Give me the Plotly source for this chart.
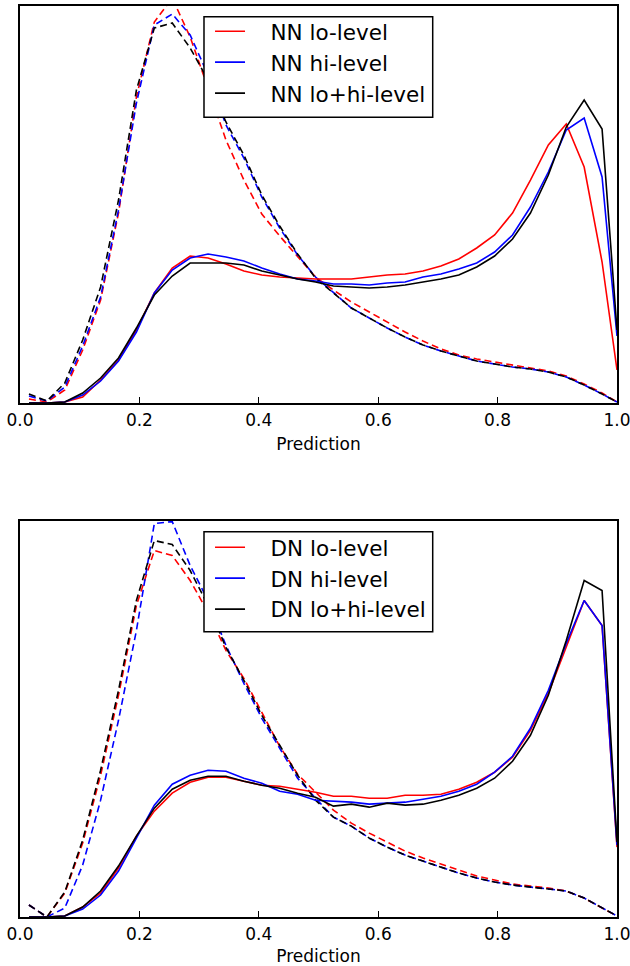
import plotly.graph_objects as go
from plotly.subplots import make_subplots

x = [0.015, 0.045, 0.075, 0.105, 0.135, 0.165, 0.195, 0.225, 0.255, 0.285,
     0.315, 0.345, 0.375, 0.405, 0.435, 0.465, 0.495, 0.525, 0.555, 0.585,
     0.615, 0.645, 0.675, 0.705, 0.735, 0.765, 0.795, 0.825, 0.855, 0.885,
     0.915, 0.945, 0.975, 1.0]

# ---------- top panel (NN) ----------
nn_lo_sig = [0, 0, 0.01, 0.06, 0.23, 0.43, 0.73, 1.10, 1.35, 1.47,
             1.45, 1.39, 1.32, 1.28, 1.26, 1.25, 1.24, 1.24, 1.24, 1.26,
             1.28, 1.29, 1.32, 1.37, 1.44, 1.55, 1.68, 1.90, 2.23, 2.58,
             2.79, 2.36, 1.41, 0.33]
nn_hi_sig = [0, 0, 0.01, 0.08, 0.22, 0.42, 0.71, 1.10, 1.33, 1.45,
             1.49, 1.46, 1.42, 1.35, 1.29, 1.24, 1.22, 1.19, 1.19, 1.18,
             1.20, 1.21, 1.26, 1.29, 1.34, 1.40, 1.51, 1.68, 1.96, 2.31,
             2.73, 2.85, 2.26, 0.67]
nn_all_sig = [0, 0, 0.01, 0.10, 0.25, 0.45, 0.75, 1.08, 1.27, 1.40,
              1.40, 1.40, 1.38, 1.32, 1.28, 1.24, 1.21, 1.17, 1.16, 1.15,
              1.16, 1.18, 1.21, 1.24, 1.28, 1.36, 1.47, 1.64, 1.90, 2.28,
              2.76, 3.03, 2.74, 0.73]
nn_lo_bkg = [0.04, 0.01, 0.13, 0.53, 1.03, 1.90, 3.06, 3.81, 4.05, 3.66,
             3.15, 2.63, 2.23, 1.89, 1.67, 1.46, 1.26, 1.13, 1.01, 0.91,
             0.81, 0.71, 0.62, 0.54, 0.48, 0.44, 0.41, 0.38, 0.35, 0.32,
             0.27, 0.19, 0.10, 0.01]
nn_hi_bkg = [0.07, 0.02, 0.16, 0.57, 1.06, 1.93, 3.00, 3.78, 3.89, 3.68,
             3.28, 2.78, 2.45, 2.06, 1.75, 1.48, 1.26, 1.10, 0.95, 0.85,
             0.75, 0.66, 0.58, 0.52, 0.47, 0.42, 0.39, 0.36, 0.34, 0.31,
             0.26, 0.18, 0.09, 0.01]
nn_all_bkg = [0.09, 0.02, 0.20, 0.63, 1.16, 2.03, 3.13, 3.75, 3.80, 3.55,
              3.23, 2.81, 2.48, 2.08, 1.77, 1.49, 1.25, 1.10, 0.95, 0.85,
              0.75, 0.66, 0.58, 0.52, 0.47, 0.42, 0.39, 0.36, 0.34, 0.31,
              0.26, 0.18, 0.09, 0.01]

# ---------- bottom panel (DN) ----------
dn_lo_sig = [0, 0, 0.01, 0.10, 0.24, 0.49, 0.81, 1.06, 1.24, 1.35,
             1.40, 1.40, 1.36, 1.32, 1.31, 1.28, 1.25, 1.21, 1.21, 1.19,
             1.19, 1.22, 1.22, 1.23, 1.28, 1.35, 1.45, 1.60, 1.87, 2.24,
             2.71, 3.17, 2.92, 0.70]
dn_hi_sig = [0, 0, 0.01, 0.08, 0.22, 0.46, 0.79, 1.12, 1.33, 1.42,
             1.47, 1.46, 1.39, 1.34, 1.26, 1.23, 1.17, 1.16, 1.15, 1.13,
             1.14, 1.15, 1.18, 1.21, 1.26, 1.33, 1.45, 1.61, 1.89, 2.27,
             2.74, 3.17, 2.92, 0.72]
dn_all_sig = [0, 0, 0.01, 0.10, 0.26, 0.51, 0.81, 1.09, 1.28, 1.37,
              1.41, 1.41, 1.36, 1.32, 1.29, 1.24, 1.20, 1.11, 1.13, 1.10,
              1.14, 1.12, 1.13, 1.17, 1.22, 1.29, 1.39, 1.56, 1.82, 2.22,
              2.77, 3.37, 3.27, 0.75]
dn_lo_bkg = [0.12, 0.00, 0.24, 0.74, 1.42, 2.22, 3.12, 3.67, 3.62, 3.37,
             3.05, 2.67, 2.39, 2.05, 1.71, 1.43, 1.25, 1.07, 0.94, 0.84,
             0.75, 0.66, 0.59, 0.53, 0.47, 0.41, 0.37, 0.33, 0.31, 0.29,
             0.26, 0.19, 0.09, 0.01]
dn_hi_bkg = [0.12, 0.00, 0.09, 0.52, 1.17, 1.97, 2.87, 3.94, 3.96, 3.52,
             3.17, 2.72, 2.34, 1.99, 1.69, 1.39, 1.19, 1.00, 0.91, 0.79,
             0.70, 0.62, 0.56, 0.50, 0.44, 0.39, 0.35, 0.32, 0.30, 0.28,
             0.26, 0.19, 0.09, 0.01]
dn_all_bkg = [0.12, 0.00, 0.25, 0.77, 1.47, 2.27, 3.17, 3.77, 3.73, 3.47,
              3.12, 2.70, 2.37, 2.02, 1.72, 1.42, 1.17, 1.00, 0.91, 0.79,
              0.70, 0.62, 0.56, 0.50, 0.44, 0.39, 0.35, 0.32, 0.30, 0.28,
              0.26, 0.19, 0.09, 0.01]

tick_vals = [0.0, 0.2, 0.4, 0.6, 0.8, 1.0]
tick_text = ["0.0", "0.2", "0.4", "0.6", "0.8", "1.0"]

FONT = "DejaVu Sans"
LW = 1.6
DASH = "7px,4px"
PAD = "\u00a0\u00a0\u00a0"

fig = make_subplots(rows=2, cols=1, vertical_spacing=0.13)

panels = [
    (1, "legend", "NN", [nn_lo_sig, nn_hi_sig, nn_all_sig], [nn_lo_bkg, nn_hi_bkg, nn_all_bkg]),
    (2, "legend2", "DN", [dn_lo_sig, dn_hi_sig, dn_all_sig], [dn_lo_bkg, dn_hi_bkg, dn_all_bkg]),
]
colors = ["red", "blue", "black"]
labels = ["lo-level", "hi-level", "lo+hi-level"]

for row, leg, prefix, sigs, bkgs in panels:
    for ys, c in zip(bkgs, colors):
        fig.add_trace(go.Scatter(x=x, y=ys, mode="lines", showlegend=False,
                                 line=dict(color=c, width=LW, dash=DASH)),
                      row=row, col=1)
    for ys, c, lab in zip(sigs, colors, labels):
        fig.add_trace(go.Scatter(x=x, y=ys, mode="lines", name=f"{PAD}{prefix} {lab}",
                                 legend=leg, line=dict(color=c, width=LW)),
                      row=row, col=1)

axis_common = dict(showline=True, linecolor="black", linewidth=1.5, mirror=True,
                   showgrid=False, zeroline=False, automargin=False)

for r in (1, 2):
    fig.update_xaxes(range=[0, 1], tickvals=tick_vals, ticktext=tick_text,
                     ticks="inside", ticklen=6, tickwidth=1, tickcolor="black",
                     ticklabelstandoff=1, ticklabeloverflow="allow",
                     title=dict(text="Prediction", font=dict(family=FONT, size=17, color="black"),
                                standoff=9),
                     tickfont=dict(family=FONT, size=17, color="black"),
                     row=r, col=1, **axis_common)
    fig.update_yaxes(showticklabels=False, ticks="", row=r, col=1, **axis_common)

fig.update_yaxes(range=[0, 3.97], row=1, col=1)
fig.update_yaxes(range=[0, 3.966], row=2, col=1)

# legend frames (white boxes that hide the curves behind the legends)
for (y0, y1) in [(0.8778, 0.9883), (0.3132, 0.4229)]:
    fig.add_shape(type="rect", xref="paper", yref="paper",
                  x0=0.3082, x1=0.6913, y0=y0, y1=y1,
                  fillcolor="white", line=dict(color="black", width=1.5),
                  layer="above")

leg_common = dict(xanchor="left", yanchor="top", bgcolor="rgba(0,0,0,0)",
                  borderwidth=0,
                  font=dict(family=FONT, size=21.5, color="black"))

fig.update_layout(
    width=630, height=966,
    margin=dict(l=20, r=13, t=6, b=49),
    plot_bgcolor="white", paper_bgcolor="white",
    font=dict(family=FONT, color="black"),
    xaxis=dict(domain=[0, 1]),
    yaxis=dict(domain=[0.5642, 1.0]),
    yaxis2=dict(domain=[0.0, 0.4347]),
    legend=dict(x=0.3183, y=0.9948, **leg_common),
    legend2=dict(x=0.3183, y=0.4284, **leg_common),
)

fig.write_html("out.html", post_script="document.body.style.margin='0';",
               config={"displayModeBar": False})
